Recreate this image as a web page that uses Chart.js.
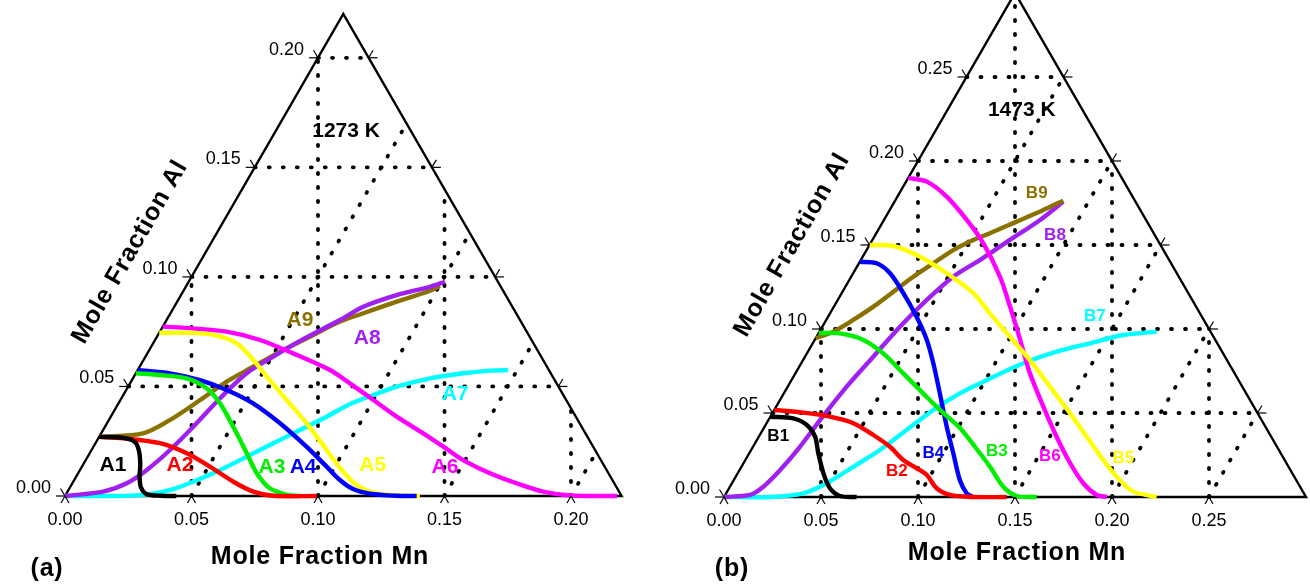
<!DOCTYPE html>
<html>
<head>
<meta charset="utf-8">
<script src="https://cdn.jsdelivr.net/npm/chart.js@4.4.0/dist/chart.umd.min.js"></script>
<style>
    html, body { margin: 0; padding: 0; background: #fff; }
    #wrap { position: relative; width: 1310px; height: 585px; }
    canvas { position: absolute; top: 0; }
</style>
</head>
<body>
<div id="wrap">
    <canvas id="chartA" width="655" height="585" style="left:0"></canvas>
    <canvas id="chartB" width="655" height="585" style="left:655px"></canvas>
</div>
<script>
// ---- ternary data: each point is [Mole Fraction Mn, Mole Fraction Al] ----

// (a) 1273 K
const aSide = 0.22;
const aMnTicks = [0, 0.05, 0.10, 0.15, 0.20];
const aAlTicks = [0, 0.05, 0.10, 0.15, 0.20];
const aNames = ['A1', 'A2', 'A3', 'A4', 'A5', 'A6', 'A7', 'A8', 'A9'];

const a1 = [[0, 0.027], [0.010, 0.0265], [0.0155, 0.0245], [0.019, 0.0205], [0.0225, 0.0145], [0.025, 0.009], [0.028, 0.004], [0.032, 0.0008], [0.038, 0.0001], [0.044, 0]];
const a2 = [[0, 0.027], [0.0099, 0.0263], [0.0255, 0.0241], [0.0384, 0.0195], [0.0506, 0.0134], [0.0633, 0.0065], [0.0734, 0.002], [0.0823, 0.0001], [0.0995, 0]];
const a3 = [[0, 0.056], [0.0099, 0.0552], [0.0212, 0.0537], [0.0314, 0.0492], [0.0401, 0.0423], [0.0507, 0.0316], [0.0621, 0.0195], [0.0706, 0.0104], [0.0792, 0.0035], [0.0876, 0.0005], [0.0929, 0]];
const a4 = [[0, 0.0575], [0.0135, 0.056], [0.0269, 0.0529], [0.0397, 0.0484], [0.0532, 0.0423], [0.0684, 0.0332], [0.0842, 0.0225], [0.0967, 0.0134], [0.105, 0.0073], [0.112, 0.0033], [0.12, 0.0011], [0.1311, 0.0001], [0.139, 0]];
const a5 = [[0, 0.0745], [0.0108, 0.0745], [0.0219, 0.0735], [0.033, 0.0697], [0.0434, 0.0621], [0.0525, 0.0545], [0.0657, 0.0438], [0.0789, 0.0332], [0.0929, 0.021], [0.1023, 0.0128], [0.1128, 0.005], [0.124, 0.0009], [0.1403, 0]];
const a6 = [[0, 0.0773], [0.0124, 0.0765], [0.0264, 0.075], [0.0415, 0.0712], [0.0576, 0.0651], [0.076, 0.0575], [0.0869, 0.0514], [0.1, 0.0438], [0.113, 0.0362], [0.1273, 0.0286], [0.1383, 0.0225], [0.1492, 0.0164], [0.1628, 0.0104], [0.1756, 0.0058], [0.188, 0.002], [0.1996, 0.0002], [0.2182, 0]];
const a7 = [[0, 0], [0.0178, 0], [0.0307, 0.0005], [0.0401, 0.0027], [0.0474, 0.0065], [0.0554, 0.0119], [0.0628, 0.0179], [0.0703, 0.0241], [0.0778, 0.0301], [0.0853, 0.0362], [0.0914, 0.0418], [0.0989, 0.0461], [0.1062, 0.0499], [0.1174, 0.0537], [0.1294, 0.056], [0.1394, 0.0572], [0.1464, 0.0575]];
const a8 = [[0, 0], [0.0141, 0.002], [0.0215, 0.0058], [0.0264, 0.0119], [0.031, 0.021], [0.0349, 0.0316], [0.039, 0.0446], [0.0438, 0.056], [0.0505, 0.0636], [0.0575, 0.0708], [0.0685, 0.0803], [0.0747, 0.0864], [0.0852, 0.0917], [0.0965, 0.0955], [0.1013, 0.0978]];
const a9 = [[0, 0.027], [0.0166, 0.0286], [0.0242, 0.0347], [0.0315, 0.0438], [0.0378, 0.0522], [0.0449, 0.059], [0.0521, 0.0659], [0.0614, 0.0735], [0.0689, 0.0796], [0.0762, 0.0834], [0.0868, 0.0887], [0.0975, 0.0937], [0.1003, 0.0958]];

// (b) 1473 K
const bSide = 0.30;
const bMnTicks = [0, 0.05, 0.10, 0.15, 0.20, 0.25];
const bAlTicks = [0, 0.05, 0.10, 0.15, 0.20, 0.25];
const bNames = ['B1', 'B2', 'B3', 'B4', 'B5', 'B6', 'B7', 'B8', 'B9'];

const b1 = [[0, 0.0478], [0.0123, 0.0468], [0.0212, 0.0429], [0.029, 0.0359], [0.0356, 0.026], [0.0442, 0.0141], [0.052, 0.0052], [0.0595, 0.0006], [0.0684, 0]];
const b2 = [[0, 0.0518], [0.0158, 0.0502], [0.0307, 0.0478], [0.0447, 0.0439], [0.0585, 0.0369], [0.0706, 0.0299], [0.0814, 0.022], [0.0908, 0.0171], [0.098, 0.0131], [0.107, 0.0052], [0.1159, 0.0012], [0.1285, 0], [0.1457, 0]];
const b3 = [[0, 0.0976], [0.0111, 0.0974], [0.0251, 0.0935], [0.0393, 0.0855], [0.0556, 0.0736], [0.0718, 0.0617], [0.0854, 0.0518], [0.1011, 0.0411], [0.1144, 0.0299], [0.1281, 0.018], [0.1409, 0.0061], [0.1506, 0.0006], [0.1612, 0]];
const b4 = [[0, 0.14], [0.0091, 0.1391], [0.019, 0.1332], [0.0318, 0.1213], [0.0456, 0.1073], [0.0578, 0.0935], [0.0681, 0.0796], [0.0804, 0.0617], [0.0939, 0.0418], [0.1052, 0.026], [0.1165, 0.0101], [0.124, 0.0022], [0.1285, 0]];
const b5 = [[0, 0.15], [0.0126, 0.1494], [0.0295, 0.143], [0.0482, 0.1332], [0.0679, 0.1213], [0.0824, 0.1093], [0.0997, 0.0954], [0.1169, 0.0815], [0.1352, 0.0657], [0.1535, 0.0498], [0.169, 0.0359], [0.1845, 0.022], [0.199, 0.0101], [0.2094, 0.0032], [0.223, 0]];
const b6 = [[0, 0.19], [0.0107, 0.1877], [0.0254, 0.1788], [0.0427, 0.1649], [0.0582, 0.151], [0.0767, 0.1311], [0.0908, 0.1133], [0.1059, 0.0935], [0.1209, 0.0736], [0.1377, 0.0538], [0.1535, 0.0359], [0.1684, 0.0201], [0.1811, 0.0082], [0.1915, 0.0012], [0.1973, 0]];
const b7 = [[0, 0], [0.0237, 0], [0.0398, 0.0022], [0.0488, 0.0082], [0.0576, 0.018], [0.0664, 0.028], [0.0742, 0.0399], [0.082, 0.0518], [0.0907, 0.0617], [0.1006, 0.0696], [0.1145, 0.0796], [0.1283, 0.0865], [0.143, 0.0915], [0.1576, 0.0964], [0.1738, 0.0984]];
const b8 = [[0, 0], [0.0128, 0.0012], [0.0172, 0.0061], [0.0209, 0.0161], [0.0242, 0.0299], [0.0266, 0.0458], [0.0304, 0.0657], [0.0352, 0.0835], [0.04, 0.1014], [0.0459, 0.1173], [0.0526, 0.1311], [0.0615, 0.1411], [0.0709, 0.153], [0.0805, 0.1649], [0.087, 0.1758]];
const b9 = [[0, 0.0945], [0.0071, 0.0984], [0.0139, 0.1054], [0.0204, 0.1133], [0.0262, 0.1222], [0.032, 0.1311], [0.0383, 0.1391], [0.0447, 0.147], [0.052, 0.153], [0.0586, 0.157], [0.0689, 0.1639], [0.0792, 0.1708], [0.0867, 0.1764]];

const CURVE_COLORS = ['#000000', '#ff0000', '#00ee00', '#0000ff', '#ffff00', '#ff00ff', '#00ffff', '#a020f0', '#8b7100'];

// where the curve names sit (ternary coords)
const aLabelPos = [[0.0119, 0.0141], [0.0384, 0.0141], [0.0752, 0.0132], [0.0875, 0.0132], [0.1146, 0.0141], [0.1436, 0.0132], [0.1309, 0.0466], [0.0834, 0.0721], [0.0527, 0.0803]];
const bLabelPos = [[0.010, 0.0359], [0.0815, 0.0151], [0.1271, 0.027], [0.0949, 0.026], [0.1943, 0.023], [0.156, 0.024], [0.1375, 0.1073], [0.0926, 0.156], [0.0708, 0.1808]];

const SQ3 = Math.sqrt(3) / 2;
const FONT = '"Liberation Sans", Arial, sans-serif';

function toXY(p) {
    return { x: p[0] + p[1] / 2, y: p[1] * SQ3 };
}

function gridLines(side, mnTicks, alTicks) {
    const lines = [];
    alTicks.filter(t => t > 0).forEach(t => lines.push([[0, t], [side - t, t]]));
    mnTicks.filter(t => t > 0).forEach(t => {
        lines.push([[t, 0], [t, side - t]]);
        const top = Math.min(2 * t, 2 * (side - t));
        lines.push([[t, 0], [t - top / 2, top]]);
    });
    return lines;
}

function makeDecor(panel) {
    return {
        id: 'ternaryDecor',
        afterDraw(chart) {
            const { ctx } = chart;
            const sx = chart.scales.x, sy = chart.scales.y;
            const px = (mn, al) => [sx.getPixelForValue(mn + al / 2), sy.getPixelForValue(al * SQ3)];
            ctx.save();

            // little tick marks on the three edges
            ctx.strokeStyle = '#000';
            ctx.lineWidth = 1.2;
            const seg = (p, dx, dy) => {
                ctx.beginPath();
                ctx.moveTo(p[0], p[1]);
                ctx.lineTo(p[0] + dx, p[1] + dy);
                ctx.stroke();
            };
            panel.mnTicks.forEach(t => {
                const p = px(t, 0);
                seg(p, -4, 7); seg(p, 4, 7);
            });
            panel.alTicks.forEach(t => {
                const p = px(0, t);
                seg(p, -9, 0); seg(p, -4.5, -7.5);
                if (t > 0) {
                    const q = px(panel.side - t, t);
                    seg(q, 9, 0); seg(q, 4.5, -7.5);
                }
            });

            // tick labels
            ctx.fillStyle = '#000';
            ctx.font = '18px ' + FONT;
            ctx.textBaseline = 'middle';
            ctx.textAlign = 'center';
            panel.mnTicks.forEach(t => {
                const p = px(t, 0);
                ctx.fillText(t.toFixed(2), p[0], p[1] + 24);
            });
            ctx.textAlign = 'right';
            panel.alTicks.forEach(t => {
                const p = px(0, t);
                ctx.fillText(t.toFixed(2), p[0] - 14, p[1] - 8);
            });

            // curve names
            ctx.textAlign = 'center';
            ctx.font = 'bold ' + panel.labelSize + 'px ' + FONT;
            panel.names.forEach((name, i) => {
                const p = px(panel.labelPos[i][0], panel.labelPos[i][1]);
                ctx.fillStyle = CURVE_COLORS[i];
                ctx.fillText(name, p[0], p[1]);
            });

            // temperature
            ctx.fillStyle = '#000';
            ctx.font = 'bold 21px ' + FONT;
            const tp = px(panel.tempPos[0], panel.tempPos[1]);
            ctx.fillText(panel.temp, tp[0], tp[1]);

            // axis titles
            ctx.font = 'bold 25px ' + FONT;
            ctx.letterSpacing = '0.8px';
            ctx.fillText('Mole Fraction Mn', panel.mnTitle[0], panel.mnTitle[1]);
            ctx.save();
            ctx.translate(panel.alTitle[0], panel.alTitle[1]);
            ctx.rotate(-Math.PI / 3);
            ctx.fillText('Mole Fraction Al', 0, 0);
            ctx.restore();
            ctx.fillText(panel.letter, panel.letterPos[0], panel.letterPos[1]);
            ctx.restore();
        }
    };
}

function buildChart(panel) {
    const datasets = [];

    panel.curves.forEach((c, i) => {
        datasets.push({
            data: c.map(toXY),
            showLine: true,
            borderColor: CURVE_COLORS[i],
            borderWidth: 4.4,
            pointRadius: 0,
            tension: 0.3,
            fill: false,
            order: panel.curveOrder[i]
        });
    });

    // triangle outline
    const s = panel.side;
    datasets.push({
        data: [[0, 0], [s, 0], [0, s], [0, 0]].map(toXY),
        showLine: true,
        borderColor: '#000',
        borderWidth: 2.4,
        pointRadius: 0,
        tension: 0,
        order: 50
    });

    // dotted grid
    gridLines(s, panel.mnTicks, panel.alTicks).forEach(line => {
        datasets.push({
            data: line.map(toXY),
            showLine: true,
            borderColor: '#000',
            borderWidth: 3.8,
            borderDash: [1, 13],
            borderCapStyle: 'round',
            pointRadius: 0,
            tension: 0,
            order: 60
        });
    });

    return new Chart(document.getElementById(panel.canvas), {
        type: 'scatter',
        data: { datasets },
        options: {
            responsive: false,
            animation: false,
            devicePixelRatio: 1,
            events: [],
            layout: { padding: 0 },
            plugins: {
                legend: { display: false },
                tooltip: { enabled: false }
            },
            scales: {
                x: { type: 'linear', display: false, min: panel.view[0], max: panel.view[1] },
                y: { type: 'linear', display: false, min: panel.view[2], max: panel.view[3] }
            }
        },
        plugins: [makeDecor(panel)]
    });
}

// (a): 2530 px per unit, origin at (65, 496); (b): 1940 px per unit, origin at (69, 497)
buildChart({
    canvas: 'chartA',
    side: aSide, mnTicks: aMnTicks, alTicks: aAlTicks,
    curves: [a1, a2, a3, a4, a5, a6, a7, a8, a9],
    curveOrder: [1, 2, 3, 4, 5, 6, 9, 7, 8],
    names: aNames, labelPos: aLabelPos, labelSize: 21,
    temp: '1273 K', tempPos: [0.0278, 0.1666],
    letter: '(a)', letterPos: [47, 569],
    mnTitle: [320, 557], alTitle: [130, 252],
    view: [-65 / 2530, 590 / 2530, -89 / 2530, 496 / 2530]
});

buildChart({
    canvas: 'chartB',
    side: bSide, mnTicks: bMnTicks, alTicks: bAlTicks,
    curves: [b1, b2, b3, b4, b5, b6, b7, b8, b9],
    curveOrder: [1, 2, 3, 4, 5, 6, 9, 8, 7],
    names: bNames, labelPos: bLabelPos, labelSize: 17,
    temp: '1473 K', tempPos: [0.0383, 0.2304],
    letter: '(b)', letterPos: [77, 569],
    mnTitle: [362, 553], alTitle: [137, 245],
    view: [-69 / 1940, 586 / 1940, -88 / 1940, 497 / 1940]
});
</script>
</body>
</html>
